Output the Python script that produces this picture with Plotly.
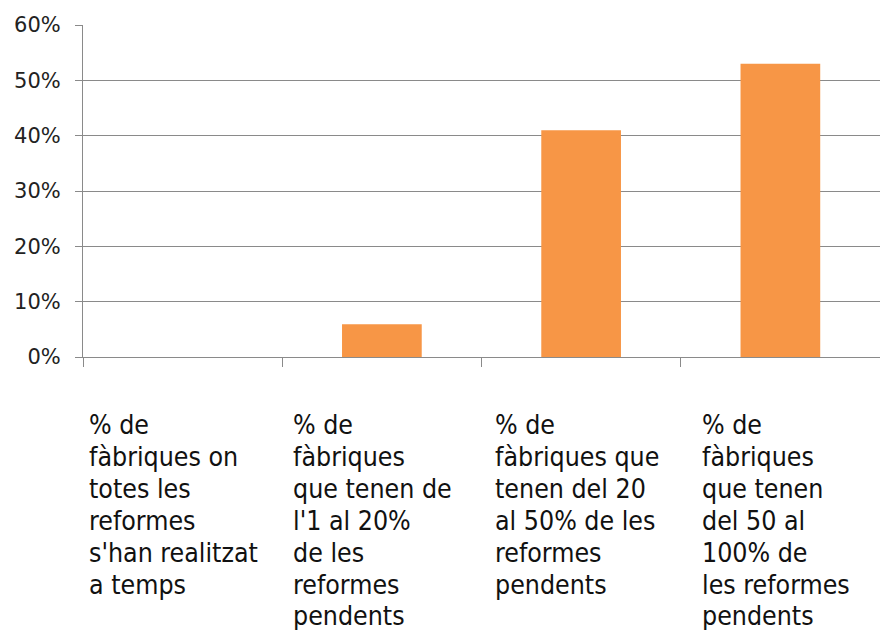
import plotly.graph_objects as go

categories = [
    "% de fàbriques on totes les reformes s'han realitzat a temps",
    "% de fàbriques que tenen de l'1 al 20% de les reformes pendents",
    "% de fàbriques que tenen del 20 al 50% de les reformes pendents",
    "% de fàbriques que tenen del 50 al 100% de les reformes pendents",
]
label_lines = [
    ["% de", "fàbriques on", "totes les", "reformes", "s'han realitzat", "a temps"],
    ["% de", "fàbriques", "que tenen de", "l'1 al 20%", "de les", "reformes", "pendents"],
    ["% de", "fàbriques que", "tenen del 20", "al 50% de les", "reformes", "pendents"],
    ["% de", "fàbriques", "que tenen", "del 50 al", "100% de", "les reformes", "pendents"],
]
values = [0.0, 0.059, 0.41, 0.53]
y_ticks = [0, 0.1, 0.2, 0.3, 0.4, 0.5, 0.6]

W, H = 880, 630
L, R, T, B = 83, 0, 25, 273
plot_h = H - T - B

fig = go.Figure(go.Bar(
    x=categories, y=values,
    marker=dict(color="#F79646", line=dict(width=0)),
    width=0.4,
))

label_xshift = [4, 9, 11, 19]
first_center_px = 425  # pixel y of first text line centre
pitch = 31.8
annotations = []
for i, lines in enumerate(label_lines):
    for j, line in enumerate(lines):
        py = first_center_px + j * pitch
        annotations.append(dict(
            x=i - 0.5, xref="x", xanchor="left", xshift=label_xshift[i],
            y=(H - B - py) / plot_h, yref="paper", yanchor="middle",
            text=line, showarrow=False,
            font=dict(family="DejaVu Sans Condensed, sans-serif",
                      size=26.5, color="#111111"),
        ))

fig.update_layout(
    width=W, height=H,
    margin=dict(l=L, r=R, t=T, b=B),
    paper_bgcolor="white", plot_bgcolor="white",
    showlegend=False,
    bargap=0.6,
    annotations=annotations,
    xaxis=dict(
        showticklabels=False, tickson="boundaries", ticks="outside",
        ticklen=9, tickcolor="#8a8a8a", tickwidth=1,
        showline=True, linecolor="#8a8a8a", linewidth=1,
        showgrid=False, zeroline=False, fixedrange=True,
    ),
    yaxis=dict(
        range=[0, 0.6], tickvals=y_ticks, tickformat=".0%",
        ticks="outside", ticklen=7, tickcolor="#8a8a8a", tickwidth=1,
        showline=True, linecolor="#8a8a8a", linewidth=1,
        showgrid=True, gridcolor="#8a8a8a", gridwidth=1,
        zeroline=False, ticklabelstandoff=10,
        tickfont=dict(family="DejaVu Sans, sans-serif", size=21, color="#222222"),
    ),
)

fig.write_html(
    "out.html",
    config={"displayModeBar": False},
    post_script="document.body.style.margin='0';document.body.style.overflow='hidden';",
)
